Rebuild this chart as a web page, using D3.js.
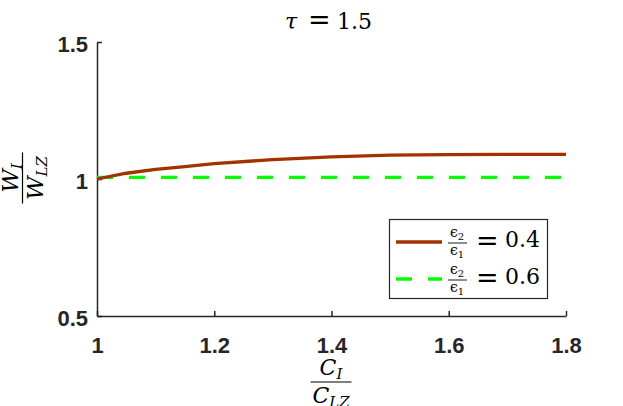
<!DOCTYPE html>
<html>
<head>
<meta charset="utf-8">
<script src="https://cdn.jsdelivr.net/npm/d3@7"></script>
<style>
  html, body { margin: 0; padding: 0; background: #fff; }
  svg { display: block; }
</style>
</head>
<body>
<svg id="chart" width="623" height="406"></svg>
<script>
// ---- data ----
const cRatio = [1.0, 1.05, 1.1, 1.15, 1.2, 1.3, 1.4, 1.5, 1.6, 1.7, 1.8];
const seriesEps04 = [1.000, 1.021, 1.035, 1.045, 1.056, 1.071, 1.081, 1.087, 1.089, 1.090, 1.090];
const seriesEps06 = [1.006, 1.006, 1.006, 1.006, 1.006, 1.006, 1.006, 1.006, 1.006, 1.006, 1.006];
const seriesNames = ["0.4", "0.6"];
const xTicks = [1, 1.2, 1.4, 1.6, 1.8];
const yTicks = [0.5, 1, 1.5];
const titleValue = "1.5";

// ---- layout ----
const svg = d3.select("#chart");
const L = 97, R = 566, T = 42, B = 316;
const x = d3.scaleLinear().domain([1, 1.8]).range([L, R]);
const y = d3.scaleLinear().domain([0.5, 1.5]).range([B, T]);
const axisColor = "#262626";
const serif = "'DejaVu Serif', 'Liberation Serif', serif";
const sans = "'Liberation Sans', Arial, sans-serif";

// axes
const gx = svg.append("g").attr("transform", `translate(0,${B})`)
  .call(d3.axisBottom(x).tickValues(xTicks).tickSizeInner(-5).tickSizeOuter(0).tickPadding(21)
    .tickFormat(d => d3.format("")(d)));
const gy = svg.append("g").attr("transform", `translate(${L},0)`)
  .call(d3.axisLeft(y).tickValues(yTicks).tickSizeInner(-5).tickSizeOuter(0).tickPadding(9)
    .tickFormat(d => d3.format("")(d)));
[gx, gy].forEach(g => {
  g.select(".domain").attr("stroke", axisColor).attr("stroke-width", 1.5);
  g.selectAll(".tick line").attr("stroke", axisColor).attr("stroke-width", 1.5);
  g.selectAll(".tick text").attr("fill", axisColor).attr("font-family", sans)
    .attr("font-weight", "bold").attr("font-size", 22);
});
gy.selectAll(".tick text").attr("dy", "0.45em");

// lines
const rows = cRatio.map((c, i) => ({c, a: seriesEps04[i], b: seriesEps06[i]}));
const lineA = d3.line().x(d => x(d.c)).y(d => y(d.a));
const lineB = d3.line().x(d => x(d.c)).y(d => y(d.b));
const redC = "#a23200", greenC = "#00ff00";
svg.append("path").datum(rows).attr("d", lineB).attr("fill", "none")
  .attr("stroke", greenC).attr("stroke-width", 3.3).attr("stroke-dasharray", "16,16");
svg.append("path").datum(rows).attr("d", lineA).attr("fill", "none")
  .attr("stroke", redC).attr("stroke-width", 3.3);

// title: tau = 1.5
const tg = svg.append("g");
tg.append("text").attr("x", 285).attr("y", 28.5).attr("font-family", serif).attr("font-style", "italic")
  .attr("font-size", 22).text("τ");
tg.append("text").attr("x", 308).attr("y", 28.5).attr("font-family", serif)
  .attr("font-size", 27).text("=");
tg.append("text").attr("x", 337).attr("y", 28.5).attr("font-family", serif)
  .attr("font-size", 22).text(titleValue);

// helper: fraction
function fraction(g, cx, cy, num, numSub, den, denSub, size, subSize, barW, gapN, gapD) {
  const mk = (base, sub, yy) => {
    const t = g.append("text").attr("x", cx).attr("y", yy).attr("text-anchor", "middle")
      .attr("font-family", serif).attr("font-size", size).attr("fill", "#000");
    t.append("tspan").attr("font-style", "italic").text(base);
    t.append("tspan").attr("font-style", "italic").attr("font-size", subSize).attr("dy", size * 0.2).text(sub);
  };
  mk(num, numSub, cy - gapN);
  g.append("line").attr("x1", cx - barW / 2).attr("x2", cx + barW / 2).attr("y1", cy).attr("y2", cy)
    .attr("stroke", "#000").attr("stroke-width", 1.2);
  mk(den, denSub, cy + gapD);
}

// x label
fraction(svg.append("g"), 331, 382, "C", "I", "C", "LZ", 22, 15, 41, 7, 21);
// y label (rotated)
const gyl = svg.append("g").attr("transform", "translate(22.5,178) rotate(-90)");
fraction(gyl, 0, 0, "W", "I", "W", "LZ", 23, 15, 51, 5, 20);

// legend
const lg = svg.append("g");
lg.append("rect").attr("x", 389.5).attr("y", 219.5).attr("width", 158).attr("height", 79)
  .attr("fill", "#fff").attr("stroke", axisColor).attr("stroke-width", 1.2);
const entries = [
  {name: seriesNames[0], color: redC, dash: null, cy: 242},
  {name: seriesNames[1], color: greenC, dash: "16,16", cy: 279}
];
entries.forEach(e => {
  lg.append("line").attr("x1", 396).attr("x2", 442).attr("y1", e.cy).attr("y2", e.cy)
    .attr("stroke", e.color).attr("stroke-width", 3.3).attr("stroke-dasharray", e.dash);
  const fg = lg.append("g");
  const mk = (sub, yy) => {
    const t = fg.append("text").attr("x", 457).attr("y", yy).attr("text-anchor", "middle")
      .attr("font-family", serif).attr("font-size", 14).attr("fill", "#000");
    t.append("tspan").text("ϵ");
    t.append("tspan").attr("font-size", 10).attr("dy", 2.5).text(sub);
  };
  mk("2", e.cy - 5);
  fg.append("line").attr("x1", 448).attr("x2", 467).attr("y1", e.cy + 1).attr("y2", e.cy + 1)
    .attr("stroke", "#000").attr("stroke-width", 0.9);
  mk("1", e.cy + 13);
  lg.append("text").attr("x", 476).attr("y", e.cy + 8).attr("font-family", serif)
    .attr("font-size", 27).attr("fill", "#000").text("=");
  lg.append("text").attr("x", 505).attr("y", e.cy + 5).attr("font-family", serif)
    .attr("font-size", 22).attr("fill", "#000").text(e.name);
});
</script>
</body>
</html>
